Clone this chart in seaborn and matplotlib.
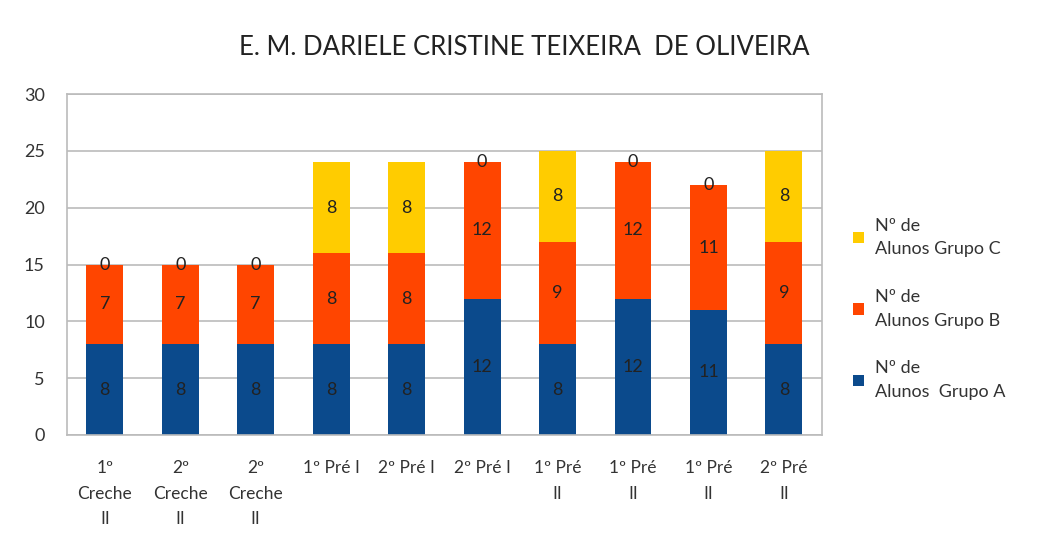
import matplotlib.pyplot as plt
import pandas as pd
import seaborn as sns

# dados do gráfico
turmas = ['1º\nCreche\nII', '2º\nCreche\nII', '2º\nCreche\nII', '1º Pré I', '2º Pré I',
          '2º Pré I', '1º Pré\nII', '1º Pré\nII', '1º Pré\nII', '2º Pré\nII']
grupo_a = [8, 8, 8, 8, 8, 12, 8, 12, 11, 8]
grupo_b = [7, 7, 7, 8, 8, 12, 9, 12, 11, 9]
grupo_c = [0, 0, 0, 8, 8, 0, 8, 0, 0, 8]

cor_a = '#0B4A8C'
cor_b = '#FF4500'
cor_c = '#FFCC00'

sns.set_style('white')
plt.rcParams['font.family'] = ['Lato', 'DejaVu Sans']

# posição única por turma (há nomes repetidos)
pos = [str(i) for i in range(len(turmas))]
df = pd.DataFrame({'pos': pos, 'A': grupo_a, 'B': grupo_b, 'C': grupo_c})
df['AB'] = df['A'] + df['B']

fig = plt.figure(figsize=(10.48, 5.35), dpi=100)
ax = fig.add_axes([0.064, 0.187, 0.72, 0.637])

w = 0.49
sns.barplot(data=df, x='pos', y='A', color=cor_a, width=w, ax=ax, linewidth=0,
            saturation=1, label='Nº de\nAlunos  Grupo A')
sns.barplot(data=df, x='pos', y='B', bottom=df['A'], color=cor_b, width=w, ax=ax,
            linewidth=0, saturation=1, label='Nº de\nAlunos Grupo B')
sns.barplot(data=df, x='pos', y='C', bottom=df['AB'], color=cor_c, width=w, ax=ax,
            linewidth=0, saturation=1, label='Nº de\nAlunos Grupo C')

for cont in ax.containers:
    ax.bar_label(cont, label_type='center', fontsize=13, color='#222222')

ax.set_ylim(0, 30)
ax.set_yticks(range(0, 31, 5))
ax.set_xlim(-0.5, len(turmas) - 0.5)
ax.set_xticks(range(len(turmas)))
ax.set_xticklabels(turmas, fontsize=12.5, color='#333333', linespacing=1.75)
ax.tick_params(axis='y', labelsize=13, colors='#333333', length=0, pad=16)
ax.tick_params(axis='x', length=0, pad=18)
ax.set_xlabel('')
ax.set_ylabel('')
ax.yaxis.grid(True, color='#BBBBBB', linewidth=1.2)
ax.set_axisbelow(True)
for s in ax.spines.values():
    s.set_visible(True)
    s.set_color('#BBBBBB')
    s.set_linewidth(1.2)

h, l = ax.get_legend_handles_labels()
leg = ax.legend(h[::-1], l[::-1], loc='center left', bbox_to_anchor=(1.02, 0.37),
                frameon=False, fontsize=13, labelspacing=1.75, handlelength=0.6,
                handleheight=0.6, handletextpad=0.6, labelcolor='#333333')
for t in leg.get_texts():
    t.set_linespacing(1.6)

fig.suptitle('E. M. DARIELE CRISTINE TEIXEIRA  DE OLIVEIRA', x=0.5, y=0.935,
             fontsize=18.5, color='#222222')

fig.savefig('out.png', dpi=100, facecolor='white')
